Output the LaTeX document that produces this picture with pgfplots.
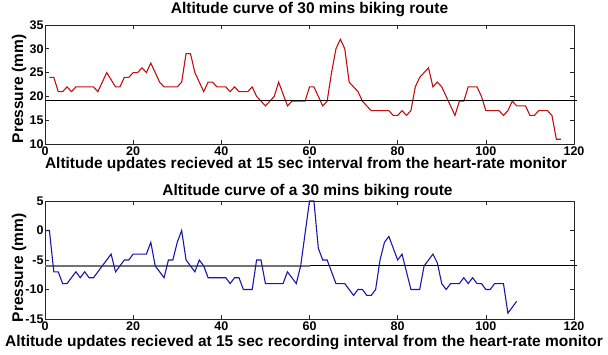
\documentclass[border=0pt]{standalone}
\usepackage{fontspec}
\setmainfont{Liberation Sans}
\usepackage{pgfplots}
\pgfplotsset{compat=1.18}
\definecolor{redline}{RGB}{195,14,14}
\definecolor{blueline}{RGB}{24,24,170}
\begin{document}
\begin{tikzpicture}[x=1pt,y=1pt]
\path[use as bounding box] (0,0) rectangle (608,354);
\pgfplotsset{
  myax/.style={
    scale only axis, width=529pt, anchor=south west,
    xmin=0, xmax=120, xtick={0,20,...,120},
    tick align=inside, major tick length=4pt,
    /pgf/number format/assume math mode=true,
    tick label style={font=\bfseries\fontsize{12.5}{13}\selectfont},
    xticklabel style={anchor=center, yshift=-7.5pt},
    yticklabel style={xshift=2pt},
    axis line style={black!85, line width=0.6pt},
    every tick/.style={black!85, line width=0.6pt},
    clip=false,
  }
}
\begin{axis}[myax, at={(45pt,210pt)}, height=119pt,
  ymin=10, ymax=35, ytick={10,15,...,35}]
\addplot[redline, line width=1.1pt] coordinates {
(1,24)(2,24)(3,21)(4,21)(5,22)(6,21)(7,22)(11,22)(12,21)(14,25)(16,22)(17,22)
(18,24)(19,24)(20,25)(21,25)(22,26)(23,25)(24,27)(26,23)(27,22)(30,22)(31,23)
(32,29)(33,29)(34,25)(35,23)(36,21)(37,23)(38,23)(39,22)(41,22)(42,21)(43,22)
(44,21)(46,21)(47,22)(48,20)(49,19)(50,18)(51,19)(52,20)(53,23)(55,18)(56,19)
(59,19)(60,22)(61,22)(62,20)(63,18)(64,19)(65,25)(66,30)(67,32)(68,30)(69,23)
(70,22)(71,21)(72,19)(73,18)(74,17)(78,17)(79,16)(80,16)(81,17)(82,16)(83,17)
(84,22)(85,24)(86,25)(87,26)(88,22)(89,23)(90,22)(91,20)(92,18)(93,16)(94,19)
(95,19)(96,22)(98,22)(99,20)(100,17)(103,17)(104,16)(105,17)(106,19)(107,18)
(109,18)(110,16)(111,16)(112,17)(114,17)(115,16)(116,11)(117,11)};
\addplot[black, line width=1.3pt] coordinates {(0,19.2)(120.7,19.2)};
\end{axis}
\begin{axis}[myax, at={(45pt,35pt)}, height=118pt,
  ymin=-15, ymax=5, ytick={-15,-10,...,5}]
\addplot[black!55, line width=1.5pt] coordinates {(0,-6)(60,-6)};
\addplot[black, line width=1pt] coordinates {(60,-6)(120.7,-6)};
\addplot[blueline, line width=1.1pt] coordinates {
(0,0)(1,0)(2,-7)(3,-7)(4,-9)(5,-9)(6,-8)(7,-7)(8,-8)(9,-7)(10,-8)(11,-8)(12,-7)
(15,-4)(16,-7)(17,-6)(18,-5)(19,-5)(20,-4)(23,-4)(24,-2)(25,-6)(26,-7)(27,-8)
(28,-5)(29,-5)(30,-2)(31,0)(32,-5)(33,-6)(34,-7)(35,-5)(36,-6)(37,-8)(41,-8)
(42,-9)(43,-8)(44,-8)(45,-10)(47,-10)(48,-5)(49,-5)(50,-9)(54,-9)(55,-7)(56,-8)
(57,-9)(58,-6)(60,5)(61,5)(62,-3)(63,-5)(64,-5)(65,-7)(66,-9)(68,-9)(69,-10)
(70,-11)(71,-10)(72,-10)(73,-11)(74,-11)(75,-10)(76,-5)(77,-2)(78,-1)(79,-3)
(80,-5)(81,-4)(82,-7)(83,-10)(85,-10)(86,-6)(87,-5)(88,-4)(89,-5.5)(90,-9)
(91,-10)(92,-9)(94,-9)(95,-8)(96,-9)(97,-8)(98,-9)(99,-9)(100,-10)(101,-10)
(102,-9)(104,-9)(105,-14)(107,-12)};
\end{axis}
\begin{scope}[every node/.style={font=\bfseries\fontsize{15.5}{16}\selectfont, inner sep=0pt}]
\node at (309.5,344) {Altitude curve of 30 mins biking route};
\node at (306,189.5) {Altitude updates recieved at 15 sec interval from the heart-rate monitor};
\node[rotate=90] at (19,265) {Pressure (mm)};
\node at (307.5,162.5) {Altitude curve of a 30 mins biking route};
\node at (304,11.5) {Altitude updates recieved at 15 sec recording interval from the heart-rate monitor};
\node[rotate=90] at (19,86) {Pressure (mm)};
\end{scope}
\end{tikzpicture}
\end{document}
